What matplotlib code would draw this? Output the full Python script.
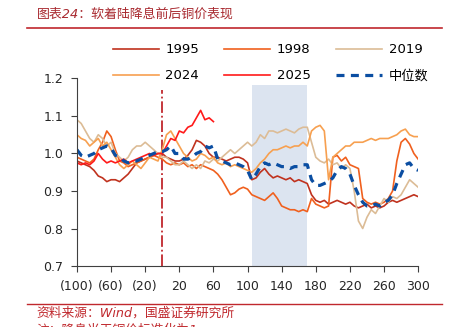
import numpy as np
import matplotlib.pyplot as plt

plt.rcParams['font.family'] = ['DejaVu Sans', 'Noto Sans CJK SC']

# days relative to the rate cut (every 5 trading days)
days = np.arange(-100, 301, 5)
days_2025 = np.arange(-100, 61, 5)

y1995 = [0.98, 0.975, 0.97, 0.965, 0.955, 0.94, 0.935, 0.925, 0.93, 0.93, 0.925, 0.935, 0.945,
         0.96, 0.975, 0.98, 0.985, 0.99, 0.995, 1.0, 1.0, 0.99, 0.985, 0.98, 0.98, 0.985, 0.995,
         1.01, 1.035, 1.03, 1.02, 1.0, 0.99, 0.99, 0.985, 0.98, 0.985, 0.99, 0.99, 0.985, 0.975,
         0.93, 0.935, 0.95, 0.96, 0.945, 0.935, 0.94, 0.935, 0.93, 0.935, 0.925, 0.93, 0.925, 0.92,
         0.89, 0.875, 0.87, 0.875, 0.865, 0.87, 0.875, 0.87, 0.865, 0.87, 0.86, 0.855, 0.86, 0.865,
         0.855, 0.86, 0.855, 0.86, 0.87, 0.875, 0.87, 0.875, 0.88, 0.885, 0.89, 0.885]
y1998 = [0.99, 0.985, 0.98, 0.975, 0.985, 1.01, 1.03, 1.06, 1.045, 1.01, 0.98, 0.975, 0.965,
         0.97, 0.975, 0.98, 0.985, 0.99, 0.995, 0.99, 0.985, 0.975, 0.97, 0.975, 0.97, 0.975, 0.965,
         0.97, 0.96, 0.97, 0.965, 0.96, 0.955, 0.945, 0.93, 0.91, 0.89, 0.895, 0.905, 0.91, 0.905,
         0.89, 0.885, 0.88, 0.875, 0.885, 0.895, 0.88, 0.86, 0.855, 0.85, 0.85, 0.845, 0.85, 0.845,
         0.88, 0.865, 0.86, 0.855, 0.86, 0.99, 0.995, 0.98, 0.99, 0.97, 0.965, 0.96, 0.88, 0.87,
         0.865, 0.87, 0.865, 0.87, 0.88, 0.90, 0.98, 1.03, 1.04, 1.025, 1.0, 0.985]
y2019 = [1.09, 1.08, 1.06, 1.04, 1.03, 1.05, 1.04, 1.02, 1.03, 1.0, 0.99, 0.98, 0.99,
         1.01, 1.02, 1.02, 1.03, 1.02, 1.01, 1.0, 0.99, 0.99, 0.98, 0.97, 0.97, 0.98, 0.97,
         0.96, 0.97, 0.96, 0.98, 0.975, 0.985, 0.98, 0.99, 1.0, 1.01, 1.0, 1.01, 1.02, 1.03,
         1.02, 1.03, 1.05, 1.04, 1.06, 1.06, 1.055, 1.06, 1.065, 1.06, 1.055, 1.065, 1.07, 1.07,
         1.03, 0.99, 0.98, 0.975, 0.985, 0.97, 0.975, 0.96, 0.97, 0.96, 0.90, 0.82, 0.80, 0.83,
         0.85, 0.84, 0.86, 0.88, 0.87, 0.885, 0.88, 0.89, 0.91, 0.93, 0.92, 0.91]
y2024 = [1.05, 1.04, 1.035, 1.02, 1.03, 1.04, 1.02, 1.03, 1.01, 0.99, 0.97, 0.96, 0.97,
         0.98, 0.97, 0.96, 0.975, 0.99, 0.985, 0.98, 1.01, 1.05, 1.06, 1.04, 1.02, 1.0, 0.99,
         0.98, 0.985, 1.0, 0.995, 0.985, 0.99, 0.975, 0.97, 0.975, 0.965, 0.97, 0.965, 0.96, 0.955,
         0.95, 0.96, 0.975, 0.985, 1.0, 1.01, 1.01, 1.015, 1.02, 1.015, 1.02, 1.02, 1.03, 1.02,
         1.06, 1.07, 1.075, 1.06, 0.93, 0.99, 1.0, 1.01, 1.02, 1.02, 1.03, 1.03, 1.03, 1.035,
         1.04, 1.035, 1.04, 1.04, 1.04, 1.045, 1.05, 1.06, 1.065, 1.05, 1.045, 1.045]
y2025 = [0.975, 0.97, 0.975, 0.97, 0.98, 1.0, 0.985, 0.975, 0.98, 0.975, 0.98, 0.985, 0.975,
         0.98, 0.985, 0.99, 0.995, 1.0, 0.995, 1.0, 1.0, 1.02, 1.04, 1.035, 1.06, 1.055, 1.07,
         1.075, 1.095, 1.115, 1.09, 1.095, 1.085]
median = [1.01, 0.995, 0.99, 0.995, 1.0, 1.01, 1.015, 1.02, 1.015, 0.995, 0.99, 0.98, 0.975,
          0.98, 0.98, 0.985, 0.99, 0.995, 1.0, 1.005, 1.005, 1.01, 1.02, 1.0, 1.0, 0.985, 0.985,
          0.99, 1.0, 1.005, 1.02, 1.015, 1.02, 0.985, 0.98, 0.975, 0.97, 0.975, 0.97, 0.965, 0.955,
          0.93, 0.945, 0.965, 0.975, 0.97, 0.975, 0.97, 0.965, 0.965, 0.96, 0.965, 0.965, 0.97, 0.97,
          0.93, 0.915, 0.915, 0.92, 0.925, 0.935, 0.955, 0.965, 0.96, 0.945, 0.915, 0.89, 0.87, 0.86,
          0.86, 0.865, 0.86, 0.87, 0.875, 0.89, 0.92, 0.945, 0.97, 0.975, 0.96, 0.955]

xticks = [-100, -60, -20, 20, 60, 100, 140, 180, 220, 260, 300]
xlabels = ['(100)', '(60)', '(20)', '20', '60', '100', '140', '180', '220', '260', '300']
cut_window = (105, 170)

fig = plt.figure(figsize=(4.58, 3.27), dpi=100)
ax = fig.add_axes([0.168, 0.1865, 0.745, 0.5735])

ax.axvspan(*cut_window, ymin=0, ymax=0.966, color='#dce4f0', lw=0, zorder=0)
ax.axvline(0, ymin=0, ymax=0.94, color='#c0282d', lw=1.3, ls='-.', zorder=1)

l95, = ax.plot(days, y1995, color='#c0321e', lw=1.2, label='1995')
l98, = ax.plot(days, y1998, color='#f0601e', lw=1.2, label='1998')
l19, = ax.plot(days, y2019, color='#dcbc96', lw=1.2, label='2019')
l24, = ax.plot(days, y2024, color='#f7a050', lw=1.2, label='2024')
l25, = ax.plot(days_2025, y2025, color='#ff1a1a', lw=1.2, label='2025')
lmed, = ax.plot(days, median, color='#0b4ea2', lw=2.3, ls=(0, (2.5, 2)), label='中位数')

ax.set_xlim(-100, 300)
ax.set_ylim(0.7, 1.2)
ax.set_xticks(xticks)
ax.set_xticklabels(xlabels)
ax.set_yticks([0.7, 0.8, 0.9, 1.0, 1.1, 1.2])
ax.yaxis.set_major_formatter(plt.FormatStrFormatter('%.1f'))
for s in ['top', 'right']:
    ax.spines[s].set_visible(False)
for s in ['left', 'bottom']:
    ax.spines[s].set_color('#404040')
ax.tick_params(labelsize=9, length=4, color='#404040', colors='#262626', pad=6)

# legend fills column by column, so order handles to get rows 1995/1998/2019 and 2024/2025/median
handles = [l95, l24, l98, l25, l19, lmed]
fig.legend(handles=handles, labels=[h.get_label() for h in handles],
           loc='upper left', bbox_to_anchor=(0.246, 0.868), ncol=3, frameon=False,
           fontsize=9.5, handlelength=3.5, handletextpad=0.5, columnspacing=1.9,
           labelspacing=1.0, borderpad=0, borderaxespad=0)

fig.text(0.08, 0.958, '图表24：软着陆降息前后铜价表现', color='#a8282e', fontsize=9.3,
         style='italic', va='center')
fig.add_artist(plt.Line2D([0.059, 0.965], [0.915, 0.915], color='#c0282d', lw=1.2))
fig.add_artist(plt.Line2D([0.059, 0.965], [0.07, 0.07], color='#c0282d', lw=1.0))
fig.text(0.08, 0.043, '资料来源：Wind，国盛证券研究所', color='#c0282d', fontsize=9.2,
         style='italic', va='center')
# second footnote line is cropped at the bottom edge in the source image
fig.text(0.08, -0.01, '注：降息当天铜价标准化为1', color='#c0282d', fontsize=9.2,
         style='italic', va='center')

fig.savefig('out.png', dpi=100)
